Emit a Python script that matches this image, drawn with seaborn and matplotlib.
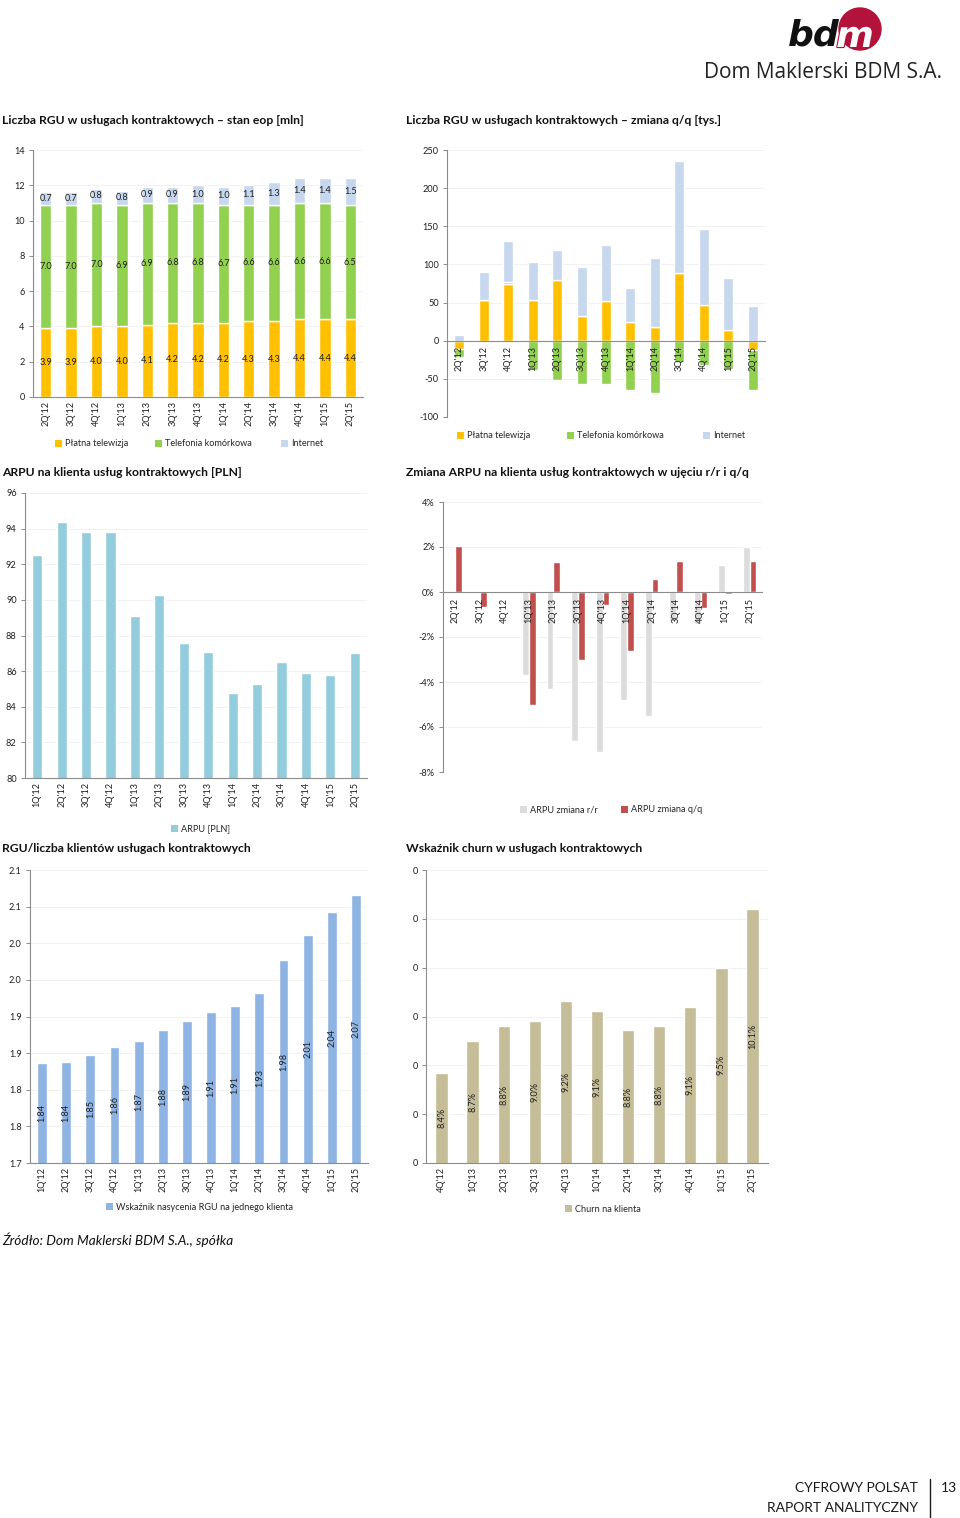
import numpy as np
import pandas as pd
import matplotlib
matplotlib.use("Agg")
import matplotlib.pyplot as plt
import matplotlib.patheffects as pe
import seaborn as sns
from matplotlib.patches import Patch, Circle
from matplotlib.ticker import FuncFormatter, MultipleLocator, FixedLocator

# ---------------- data ----------------
q_rgu = ["2Q'12", "3Q'12", "4Q'12", "1Q'13", "2Q'13", "3Q'13", "4Q'13",
         "1Q'14", "2Q'14", "3Q'14", "4Q'14", "1Q'15", "2Q'15"]
tv_eop = [3.9, 3.9, 4.0, 4.0, 4.1, 4.2, 4.2, 4.2, 4.3, 4.3, 4.4, 4.4, 4.4]
mobile_eop = [7.0, 7.0, 7.0, 6.9, 6.9, 6.8, 6.8, 6.7, 6.6, 6.6, 6.6, 6.6, 6.5]
internet_eop = [0.7, 0.7, 0.8, 0.8, 0.9, 0.9, 1.0, 1.0, 1.1, 1.3, 1.4, 1.4, 1.5]

tv_qq = [-11, 53, 75, 53, 80, 32, 52, 25, 18, 89, 47, 14, -12]
mobile_qq = [-11, 0, 2, -39, -51, -57, -57, -65, -69, -28, -32, -37, -52]
internet_qq = [7, 37, 54, 50, 39, 64, 74, 44, 91, 146, 99, 68, 46]

q_arpu = ["1Q'12", "2Q'12", "3Q'12", "4Q'12", "1Q'13", "2Q'13", "3Q'13",
          "4Q'13", "1Q'14", "2Q'14", "3Q'14", "4Q'14", "1Q'15", "2Q'15"]
arpu = [92.5, 94.4, 93.8, 93.8, 89.1, 90.3, 87.6, 87.1, 84.8, 85.3, 86.5, 85.9, 85.8, 87.0]

arpu_yoy = [np.nan, np.nan, np.nan, -3.7, -4.3, -6.6, -7.1, -4.8, -5.5, -1.3, -1.4, 1.2, 2.0]
arpu_qoq = [2.05, -0.65, 0.0, -5.0, 1.35, -3.0, -0.57, -2.64, 0.59, 1.4, -0.7, -0.1, 1.4]

rgu_per_client = [1.836, 1.838, 1.847, 1.858, 1.867, 1.881, 1.894, 1.906, 1.914,
                  1.932, 1.977, 2.011, 2.042, 2.066]
sat_tick_labels = ["1.7", "1.8", "1.8", "1.9", "1.9", "2.0", "2.0", "2.1", "2.1"]

q_churn = ["4Q'12", "1Q'13", "2Q'13", "3Q'13", "4Q'13", "1Q'14", "2Q'14",
           "3Q'14", "4Q'14", "1Q'15", "2Q'15"]
churn = [8.42, 8.75, 8.90, 8.95, 9.16, 9.06, 8.86, 8.90, 9.10, 9.50, 10.10]
churn_labels = ["8.4%", "8.7%", "8.8%", "9.0%", "9.2%", "9.1%", "8.8%", "8.8%",
                "9.1%", "9.5%", "10.1%"]

# ---------------- style ----------------
sns.set_style("white")
plt.rcParams["font.family"] = ["Lato", "DejaVu Sans"]
plt.rcParams["axes.unicode_minus"] = False
plt.rcParams["text.color"] = "#262626"

C_TV, C_MOB, C_NET = "#FFC000", "#92D050", "#C6D7EE"
C_ARPU = "#93CDDD"
C_GREY, C_RED = "#DCDCDC", "#C0504D"
C_SAT = "#8EB4E3"
C_CHURN = "#C4BD97"
AXC = "#8C8C8C"
GRID = "#F0F0F0"
TXT = "#1f1f1f"
FS = 6.6

W, H = 960, 1518
fig = plt.figure(figsize=(W / 100, H / 100), dpi=100)


def rect(l, t, r, b):
    return [l / W, 1 - b / H, (r - l) / W, (b - t) / H]


def style(ax, n, zero_spine=False):
    for s in ["top", "right"]:
        ax.spines[s].set_visible(False)
    for s in ["left", "bottom"]:
        ax.spines[s].set_color(AXC)
        ax.spines[s].set_linewidth(0.8)
    ax.set_xlim(-0.5, n - 0.5)
    ax.set_xticks(range(n))
    ax.tick_params(axis="x", which="major", length=0, labelrotation=90,
                   labelsize=FS, pad=4 if zero_spine else 3, labelcolor=TXT)
    ax.set_xticks(np.arange(n + 1) - 0.5, minor=True)
    ax.tick_params(axis="x", which="minor", length=3, color=AXC, width=0.7)
    ax.tick_params(axis="y", length=3, color=AXC, width=0.7, labelsize=FS,
                   pad=3, labelcolor=TXT, left=True)
    ax.grid(False)
    ax.set_axisbelow(False)
    ax.set_xlabel("")
    ax.set_ylabel("")
    if zero_spine:
        ax.spines["bottom"].set_position(("data", 0))


def add_grid(ax):
    lo, hi = ax.get_ylim()
    for y in ax.get_yticks():
        if lo < y <= hi:
            ax.axhline(y, color=GRID, lw=0.6, zorder=0)


def legend_item(x, y, label, color):
    fig.legend([Patch(facecolor=color, edgecolor="none")], [label],
               loc="center left", bbox_to_anchor=(x / W, 1 - y / H),
               frameon=False, fontsize=FS, handlelength=0.8, handleheight=0.8,
               handletextpad=0.3, borderpad=0, borderaxespad=0)


# ---------------- chart 1: RGU eop stacked ----------------
ax1 = fig.add_axes(rect(33, 150, 363, 397))
bottom = np.zeros(len(q_rgu))
for vals, col in [(tv_eop, C_TV), (mobile_eop, C_MOB), (internet_eop, C_NET)]:
    sns.barplot(x=q_rgu, y=vals, bottom=bottom, color=col, saturation=1,
                width=0.45, ax=ax1)
    ax1.bar_label(ax1.containers[-1], labels=[f"{v:.1f}" for v in vals],
                  label_type="center", fontsize=FS, color=TXT)
    bottom = bottom + np.array(vals)
style(ax1, len(q_rgu))
ax1.set_ylim(0, 14)
ax1.yaxis.set_major_locator(MultipleLocator(2))
ax1.yaxis.set_major_formatter(FuncFormatter(lambda v, p: f"{v:.0f}"))
add_grid(ax1)
legend_item(55, 444, "Płatna telewizja", C_TV)
legend_item(155, 444, "Telefonia komórkowa", C_MOB)
legend_item(281, 444, "Internet", C_NET)

# ---------------- chart 2: RGU q/q stacked ----------------
ax2 = fig.add_axes(rect(447, 150, 765, 417))
pos = np.zeros(len(q_rgu))
neg = np.zeros(len(q_rgu))
for vals, col in [(tv_qq, C_TV), (mobile_qq, C_MOB), (internet_qq, C_NET)]:
    v = np.array(vals, dtype=float)
    b = np.where(v >= 0, pos, neg)
    sns.barplot(x=q_rgu, y=v, bottom=b, color=col, saturation=1,
                width=0.41, ax=ax2)
    pos = pos + np.clip(v, 0, None)
    neg = neg + np.clip(v, None, 0)
style(ax2, len(q_rgu), zero_spine=True)
ax2.set_ylim(-100, 250)
ax2.yaxis.set_major_locator(MultipleLocator(50))
ax2.yaxis.set_major_formatter(FuncFormatter(lambda v, p: f"{v:.0f}"))
add_grid(ax2)
legend_item(457, 436, "Płatna telewizja", C_TV)
legend_item(567, 436, "Telefonia komórkowa", C_MOB)
legend_item(703, 436, "Internet", C_NET)

# ---------------- chart 3: ARPU ----------------
ax3 = fig.add_axes(rect(25, 493, 367, 778))
sns.barplot(x=q_arpu, y=arpu, color=C_ARPU, saturation=1, width=0.41, ax=ax3)
style(ax3, len(q_arpu))
ax3.set_ylim(80, 96)
ax3.yaxis.set_major_locator(MultipleLocator(2))
ax3.yaxis.set_major_formatter(FuncFormatter(lambda v, p: f"{v:.0f}"))
add_grid(ax3)
legend_item(171, 829, "ARPU [PLN]", C_ARPU)

# ---------------- chart 4: ARPU change ----------------
ax4 = fig.add_axes(rect(443, 502, 762, 772))
df4 = pd.DataFrame({
    "q": q_rgu * 2,
    "s": ["ARPU zmiana r/r"] * len(q_rgu) + ["ARPU zmiana q/q"] * len(q_rgu),
    "v": arpu_yoy + arpu_qoq,
})
sns.barplot(data=df4, x="q", y="v", hue="s", palette=[C_GREY, C_RED],
            saturation=1, width=0.55, legend=False, ax=ax4)
style(ax4, len(q_rgu), zero_spine=True)
ax4.set_ylim(-8, 4)
ax4.yaxis.set_major_locator(MultipleLocator(2))
ax4.yaxis.set_major_formatter(FuncFormatter(lambda v, p: f"{v:.0f}%"))
add_grid(ax4)
legend_item(520, 810, "ARPU zmiana r/r", C_GREY)
legend_item(621, 810, "ARPU zmiana q/q", C_RED)

# ---------------- chart 5: RGU per client ----------------
ax5 = fig.add_axes(rect(30, 870, 368, 1163))
sns.barplot(x=q_arpu, y=rgu_per_client, color=C_SAT, saturation=1,
            width=0.41, ax=ax5)
ax5.bar_label(ax5.containers[-1], fmt="%.2f", label_type="center",
              rotation=90, fontsize=FS, color=TXT)
style(ax5, len(q_arpu))
ax5.set_ylim(1.70, 2.10)
ax5.yaxis.set_major_locator(FixedLocator(np.linspace(1.70, 2.10, len(sat_tick_labels))))
ax5.set_yticklabels(sat_tick_labels)
add_grid(ax5)
legend_item(106, 1207, "Wskaźnik nasycenia RGU na jednego klienta", C_SAT)

# ---------------- chart 6: churn ----------------
ax6 = fig.add_axes(rect(426, 870, 768, 1163))
sns.barplot(x=q_churn, y=churn, color=C_CHURN, saturation=1, width=0.4, ax=ax6)
ax6.bar_label(ax6.containers[-1], labels=churn_labels, label_type="center",
              rotation=90, fontsize=FS, color=TXT)
style(ax6, len(q_churn))
ax6.set_ylim(7.5, 10.5)
ax6.yaxis.set_major_locator(MultipleLocator(0.5))
ax6.yaxis.set_major_formatter(FuncFormatter(lambda v, p: f"{v / 100:.0f}"))
add_grid(ax6)
legend_item(565, 1209, "Churn na klienta", C_CHURN)

# ---------------- decorations ----------------
deco = fig.add_axes([0, 0, 1, 1], zorder=-1)
deco.set_xlim(0, W)
deco.set_ylim(H, 0)
deco.axis("off")
deco.patch.set_alpha(0)

titles = [
    (2, 120, "Liczba RGU w usługach kontraktowych – stan eop [mln]"),
    (406, 120, "Liczba RGU w usługach kontraktowych – zmiana q/q [tys.]"),
    (2, 472, "ARPU na klienta usług kontraktowych [PLN]"),
    (406, 472, "Zmiana ARPU na klienta usług kontraktowych w ujęciu r/r i q/q"),
    (2, 848, "RGU/liczba klientów usługach kontraktowych"),
    (406, 848, "Wskaźnik churn w usługach kontraktowych"),
]
for x, y, t in titles:
    deco.text(x, y, t, ha="left", va="center", fontsize=8.7, fontweight="bold",
              color="#111111")

deco.text(2, 1240, "Źródło: Dom Maklerski BDM S.A., spółka", ha="left",
          va="center", fontsize=9.8, style="italic", color="#111111")

# logo
CRIMSON = "#B3123A"
deco.add_patch(Circle((860, 29), 21, color=CRIMSON, zorder=1))
deco.text(814, 35, "bd", ha="center", va="center", fontsize=26,
          fontweight="bold", style="italic", color="#111111", zorder=2,
          family=["DejaVu Sans"])
deco.text(855, 37, "m", ha="center", va="center", fontsize=26,
          fontweight="bold", style="italic", color="white", zorder=2,
          family=["DejaVu Sans"],
          path_effects=[pe.withStroke(linewidth=1.6, foreground=CRIMSON)])
deco.text(823, 72, "Dom Maklerski BDM S.A.", ha="center", va="center",
          fontsize=15, color="#222222", family=["Open Sans", "DejaVu Sans"])

# footer
deco.text(918, 1488, "CYFROWY POLSAT", ha="right", va="center", fontsize=10,
          color="#1a1a1a")
deco.text(918, 1508, "RAPORT ANALITYCZNY", ha="right", va="center",
          fontsize=10, color="#1a1a1a")
deco.plot([930, 930], [1479, 1518], color="#1a1a1a", lw=1)
deco.text(949, 1488, "13", ha="center", va="center", fontsize=10,
          color="#1a1a1a")

fig.savefig("out.png", dpi=100)
